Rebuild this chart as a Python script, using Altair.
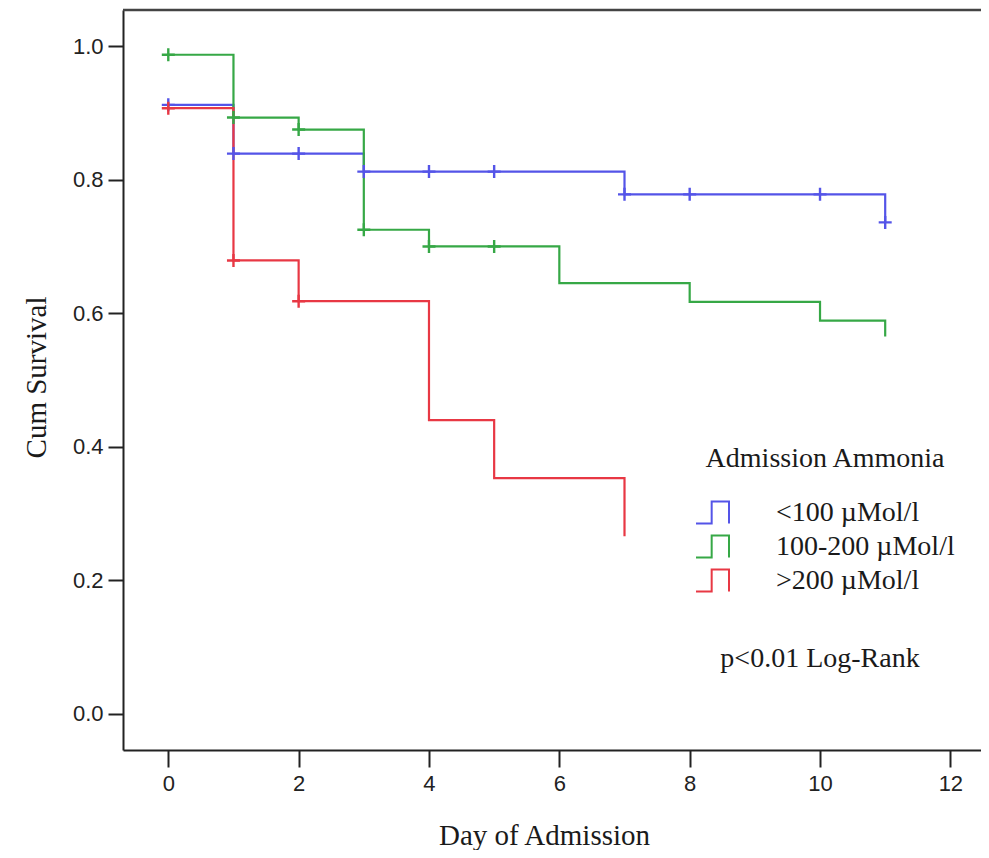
import altair as alt
import pandas as pd

# ---------------- data ----------------
GROUPS = ["<100 µMol/l", "100-200 µMol/l", ">200 µMol/l"]
COLORS = ["#5454e8", "#36a846", "#e83844"]

# Kaplan-Meier steps (day, cumulative survival after the step)
BLUE_DAYS = [0, 1, 3, 7, 11]
BLUE_SURV = [0.912, 0.839, 0.812, 0.778, 0.736]
GREEN_DAYS = [0, 1, 2, 3, 4, 6, 8, 10, 11]
GREEN_SURV = [0.987, 0.893, 0.875, 0.725, 0.700, 0.645, 0.617, 0.589, 0.565]
RED_DAYS = [0, 1, 2, 4, 5, 7]
RED_SURV = [0.907, 0.679, 0.618, 0.440, 0.353, 0.266]

# censoring marks
BLUE_CENS_DAYS = [0, 1, 2, 3, 4, 5, 7, 8, 10, 11]
BLUE_CENS_SURV = [0.912, 0.839, 0.839, 0.812, 0.812, 0.812, 0.778, 0.778, 0.778, 0.736]
GREEN_CENS_DAYS = [0, 1, 2, 3, 4, 5]
GREEN_CENS_SURV = [0.987, 0.893, 0.875, 0.725, 0.700, 0.700]
RED_CENS_DAYS = [0, 1, 2]
RED_CENS_SURV = [0.907, 0.679, 0.618]

X_TICKS = [0, 2, 4, 6, 8, 10, 12]
Y_TICKS = [0.0, 0.2, 0.4, 0.6, 0.8, 1.0]
X_DOMAIN = [-0.695, 12.47]
Y_DOMAIN = [-0.054, 1.054]

NOTE_TEXT = ["p<0.01 Log-Rank"]
NOTE_X = [10.0]
NOTE_Y = [0.082]

# ---------------- tables ----------------
def build(days_list, surv_list):
    rows = []
    for g, d, s in zip(GROUPS, days_list, surv_list):
        for dd, ss in zip(d, s):
            rows.append({"group": g, "day": dd, "surv": ss})
    return pd.DataFrame(rows)

steps = build([BLUE_DAYS, GREEN_DAYS, RED_DAYS], [BLUE_SURV, GREEN_SURV, RED_SURV])
cens = build([BLUE_CENS_DAYS, GREEN_CENS_DAYS, RED_CENS_DAYS],
             [BLUE_CENS_SURV, GREEN_CENS_SURV, RED_CENS_SURV])
note = pd.DataFrame({"label": NOTE_TEXT, "day": NOTE_X, "surv": NOTE_Y})

xscale = alt.Scale(domain=X_DOMAIN, nice=False, zero=False)
yscale = alt.Scale(domain=Y_DOMAIN, nice=False, zero=False)
cscale = alt.Scale(domain=GROUPS, range=COLORS)

x_enc = alt.X("day:Q", scale=xscale,
              axis=alt.Axis(values=X_TICKS, format="d", title="Day of Admission",
                            tickSize=17, labelPadding=6,
                            titleX=421, titleY=94, titleBaseline="alphabetic",
                            titleAlign="center", titleAnchor="start"))
y_enc = alt.Y("surv:Q", scale=yscale,
              axis=alt.Axis(values=Y_TICKS, format=".1f", title="Cum Survival",
                            tickSize=15, labelPadding=5,
                            titleX=-87, titleY=367, titleAngle=270,
                            titleBaseline="middle", titleAlign="center",
                            titleAnchor="start"))

STEP_SYMBOL = "M -1 0.66 L -0.05 0.66 L -0.05 -0.66 L 1 -0.66 L 1 0.66"
CROSS = "M -1 0 L 1 0 M 0 -1 L 0 1"

lines = alt.Chart(steps).mark_line(interpolate="step-after", strokeWidth=2.2).encode(
    x=x_enc,
    y=y_enc,
    color=alt.Color("group:N", scale=cscale,
                    legend=alt.Legend(title="Admission Ammonia", orient="none",
                                      legendX=572, legendY=435,
                                      symbolType=STEP_SYMBOL, symbolSize=1089,
                                      symbolStrokeWidth=2, labelOffset=46,
                                      rowPadding=1, titlePadding=22,
                                      titleAnchor="middle", padding=0,
                                      labelLimit=600, titleLimit=600)),
    detail="group:N",
    order="day:Q",
)

marks = alt.Chart(cens).mark_point(shape=CROSS, filled=False, size=169,
                                   strokeWidth=2.4, opacity=1).encode(
    x=alt.X("day:Q", scale=xscale),
    y=alt.Y("surv:Q", scale=yscale),
    color=alt.Color("group:N", scale=cscale, legend=None),
)

top_rule = alt.Chart(note).mark_rule(color="#444444", strokeWidth=2.5).encode(
    y=alt.datum(Y_DOMAIN[1], scale=yscale)
)

note_text = alt.Chart(note).mark_text(font="Liberation Serif", fontSize=28,
                                      align="center", baseline="middle",
                                      color="#1a1a1a").encode(
    x=alt.X("day:Q", scale=xscale),
    y=alt.Y("surv:Q", scale=yscale),
    text="label:N",
)

chart = alt.layer(top_rule, lines, marks, note_text).properties(
    width=858, height=740, autosize="none",
    padding={"left": 115, "top": 2, "right": 0, "bottom": 100},
    background="white",
).configure_view(stroke=None).configure_axis(
    grid=False, domainColor="#222222", domainWidth=2, tickColor="#222222",
    tickWidth=2, labelFont="Liberation Sans", labelFontSize=22,
    labelColor="#222222", titleFont="Liberation Serif", titleFontSize=29,
    titleFontWeight="normal", titleColor="#1a1a1a",
).configure_legend(
    titleFont="Liberation Serif", titleFontSize=28, titleFontWeight="normal",
    titleColor="#1a1a1a", labelFont="Liberation Serif", labelFontSize=28,
    labelColor="#1a1a1a",
)

chart.save("out.html", embed_options={"renderer": "svg", "actions": False})
